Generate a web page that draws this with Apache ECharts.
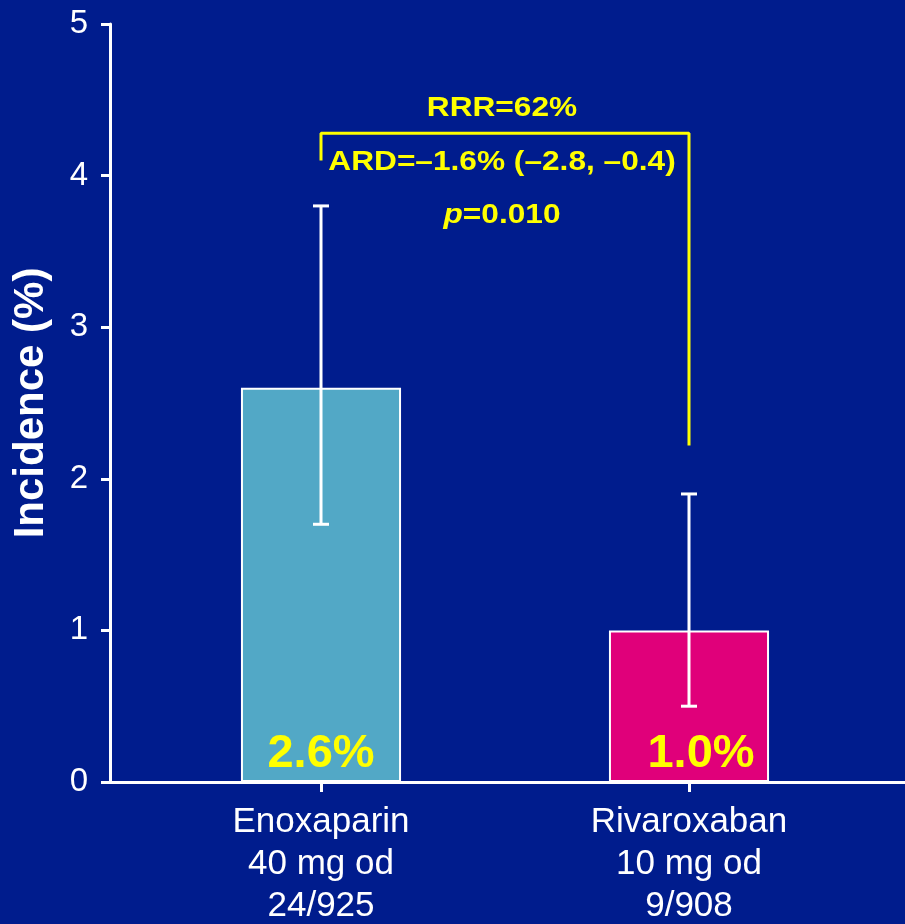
<!DOCTYPE html>
<html><head><meta charset="utf-8">
<script src="https://cdn.jsdelivr.net/npm/echarts@6/dist/echarts.min.js"></script>
<style>html,body{margin:0;padding:0;background:#001C8D;}#c{width:905px;height:924px;}</style>
</head><body><div id="c"></div>
<script>
var categories = ['Enoxaparin\n40 mg od\n24/925', 'Rivaroxaban\n10 mg od\n9/908'];
var incidence = [2.6, 1.0];
var ciLow = [1.7, 0.5];
var ciHigh = [3.8, 1.9];
var barColors = ['#52A8C6', '#E0007A'];
var barLabels = ['2.6%', '1.0%'];
var bracket = [[0, 4.1], [0, 4.28], [1, 4.28], [1, 2.22]];
var yTicks = [0, 1, 2, 3, 4, 5];
var annot = ['RRR=62%', 'ARD=\u20131.6% (\u20132.8, \u20130.4)', '0.010'];

var FONT = 'Liberation Sans, Arial, sans-serif';
var chart = echarts.init(document.getElementById('c'));
var errData = categories.map(function (c, i) { return [i, ciLow[i], ciHigh[i]]; });
var SX = 1.13;

chart.setOption({
  backgroundColor: '#001C8D',
  animation: false,
  grid: [
    { left: 137, right: 32, top: 24, bottom: 142, containLabel: false, outerBoundsMode: 'none' },
    { left: 110, right: 0, top: 24, bottom: 142, containLabel: false, outerBoundsMode: 'none' }
  ],
  xAxis: [
    {
      type: 'category', gridIndex: 0, data: categories,
      axisLine: { show: false },
      axisTick: { show: true, alignWithLabel: true, length: 10, lineStyle: { color: '#fff', width: 3 } },
      axisLabel: { color: '#fff', fontSize: 35, lineHeight: 42, fontFamily: FONT, margin: 19 }
    },
    {
      type: 'value', gridIndex: 1, min: 0, max: 1,
      axisLine: { show: true, lineStyle: { color: '#fff', width: 3 } },
      axisTick: { show: false }, axisLabel: { show: false }, splitLine: { show: false }
    }
  ],
  yAxis: [
    {
      type: 'value', gridIndex: 0, min: yTicks[0], max: yTicks[yTicks.length - 1], interval: 1,
      offset: 27,
      name: 'Incidence (%)', nameLocation: 'middle', nameGap: 58,
      nameTextStyle: { color: '#fff', fontSize: 42, fontWeight: 'bold', fontFamily: FONT },
      axisLine: { show: true, lineStyle: { color: '#fff', width: 3 } },
      axisTick: { show: true, length: 9, lineStyle: { color: '#fff', width: 3 } },
      axisLabel: { color: '#fff', fontSize: 33, fontFamily: FONT, margin: 22 },
      splitLine: { show: false }
    },
    { type: 'value', gridIndex: 1, show: false, min: 0, max: 5 }
  ],
  series: [
    {
      type: 'bar', xAxisIndex: 0, yAxisIndex: 0, barWidth: '43.5%',
      data: incidence.map(function (v, i) {
        return {
          value: v,
          itemStyle: { color: barColors[i], borderColor: '#fff', borderWidth: 2 },
          label: {
            show: true, position: 'insideBottom', distance: 4,
            offset: i === 1 ? [12, 0] : [0, 0],
            formatter: barLabels[i], color: '#FFFF00', fontSize: 47, fontWeight: 'bold', fontFamily: FONT
          }
        };
      }),
      z: 2
    },
    {
      type: 'custom', xAxisIndex: 0, yAxisIndex: 0, data: errData, z: 5,
      renderItem: function (params, api) {
        var x = api.value(0);
        var lo = api.coord([x, api.value(1)]);
        var hi = api.coord([x, api.value(2)]);
        var hw = 8;
        var st = { stroke: '#fff', lineWidth: 3 };
        return {
          type: 'group', children: [
            { type: 'line', shape: { x1: lo[0], y1: lo[1], x2: hi[0], y2: hi[1] }, style: st },
            { type: 'line', shape: { x1: lo[0] - hw, y1: lo[1], x2: lo[0] + hw, y2: lo[1] }, style: st },
            { type: 'line', shape: { x1: hi[0] - hw, y1: hi[1], x2: hi[0] + hw, y2: hi[1] }, style: st }
          ]
        };
      }
    },
    {
      type: 'line', xAxisIndex: 0, yAxisIndex: 0, data: bracket, showSymbol: false, symbol: 'none',
      lineStyle: { color: '#FFFF00', width: 3 }, z: 4
    }
  ],
  graphic: [
    { type: 'text', x: 502, y: 108, scaleX: SX, style: { text: annot[0], align: 'center', verticalAlign: 'middle', fill: '#FFFF00', font: 'bold 28px ' + FONT } },
    { type: 'text', x: 502, y: 162, scaleX: SX, style: { text: annot[1], align: 'center', verticalAlign: 'middle', fill: '#FFFF00', font: 'bold 28px ' + FONT } },
    { type: 'text', x: 502, y: 215, scaleX: SX, style: {
        text: '{i|p}{n|=' + annot[2] + '}', align: 'center', verticalAlign: 'middle',
        rich: {
          i: { fill: '#FFFF00', fontStyle: 'italic', fontWeight: 'bold', fontSize: 28, fontFamily: FONT },
          n: { fill: '#FFFF00', fontWeight: 'bold', fontSize: 28, fontFamily: FONT }
        }
      } }
  ]
});
</script></body></html>
